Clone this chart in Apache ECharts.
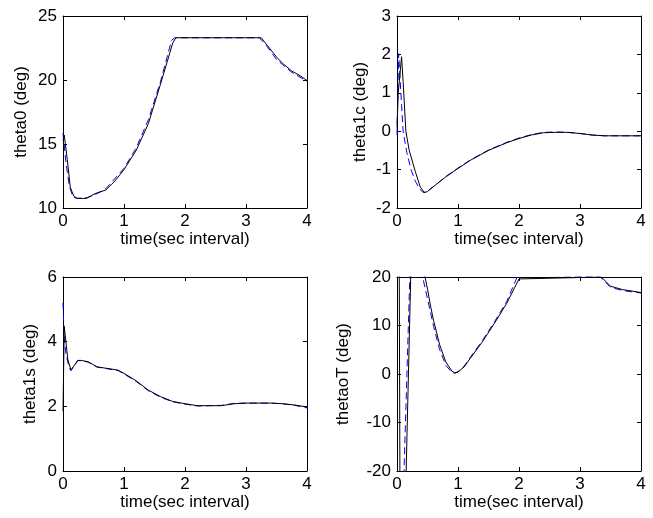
<!DOCTYPE html>
<html>
<head>
<meta charset="utf-8">
<script src="https://cdn.jsdelivr.net/npm/echarts@6/dist/echarts.min.js"></script>
<style>html,body{margin:0;padding:0;background:#fff}#c{width:653px;height:518px}</style>
</head>
<body>
<div id="c"></div>
<script>
// ---- data ----
var xTicks = [0, 1, 2, 3, 4];

// subplot 1: theta0 (deg)
var t0Act = [0, 0.02, 0.07, 0.12, 0.18, 0.24, 0.38, 0.54, 0.7, 0.85, 1.0, 1.2, 1.4, 1.6, 1.8, 1.85, 3.25, 3.35, 3.5, 3.6, 3.75, 3.9, 4.0];
var theta0Act = [15.3, 15.7, 13.8, 11.6, 10.9, 10.75, 10.75, 11.15, 11.4, 12.1, 13.0, 14.5, 16.6, 19.7, 22.9, 23.3, 23.3, 22.7, 21.8, 21.3, 20.7, 20.3, 19.95];
var t0Ref = [0, 0.05, 0.105, 0.16, 0.22, 0.4, 0.55, 0.7, 1.0, 1.2, 1.4, 1.6, 1.78, 1.83, 3.22, 3.35, 3.5, 3.6, 3.75, 4.0];
var theta0Ref = [15.85, 13.5, 11.7, 10.9, 10.75, 10.8, 11.1, 11.5, 13.1, 14.7, 16.9, 19.9, 23.1, 23.3, 23.3, 22.6, 21.6, 21.2, 20.6, 19.9];

// subplot 2: theta1c (deg)
var t1cAct = [0, 0.02, 0.075, 0.1, 0.145, 0.2, 0.3, 0.38, 0.45, 0.5, 0.6, 0.8, 1.0, 1.2, 1.5, 1.8, 2.0, 2.2, 2.4, 2.6, 2.8, 3.0, 3.2, 3.4, 4.0];
var theta1cAct = [0.1, 1.0, 1.94, 1.3, 0.0, -0.5, -1.05, -1.45, -1.6, -1.57, -1.44, -1.19, -0.97, -0.76, -0.5, -0.3, -0.19, -0.1, -0.04, -0.03, -0.03, -0.06, -0.1, -0.12, -0.12];
var t1cRef = [0, 0.027, 0.06, 0.1, 0.16, 0.23, 0.3, 0.37, 0.43, 0.5, 0.6, 0.8, 1.0, 1.2, 1.5, 1.8, 2.0, 2.2, 2.4, 2.6, 2.8, 3.0, 3.2, 3.4, 4.0];
var theta1cRef = [-0.1, 2.02, 1.1, 0.0, -0.55, -1.0, -1.3, -1.5, -1.6, -1.56, -1.44, -1.18, -0.96, -0.75, -0.49, -0.29, -0.18, -0.09, -0.03, -0.02, -0.03, -0.06, -0.1, -0.12, -0.12];

// subplot 3: theta1s (deg)
var t1sAct = [0, 0.02, 0.08, 0.13, 0.18, 0.24, 0.3, 0.41, 0.56, 0.7, 0.9, 1.0, 1.2, 1.4, 1.6, 1.8, 2.0, 2.2, 2.6, 2.8, 3.0, 3.4, 3.6, 3.8, 4.0];
var theta1sAct = [1.85, 4.47, 3.44, 3.13, 3.25, 3.42, 3.42, 3.38, 3.22, 3.18, 3.12, 3.02, 2.79, 2.5, 2.3, 2.15, 2.08, 2.02, 2.02, 2.08, 2.1, 2.1, 2.08, 2.04, 1.98];
var t1sRef = [0, 0.02, 0.05, 0.1, 0.13, 0.2, 0.25, 0.41, 0.56, 0.7, 0.9, 1.0, 1.2, 1.4, 1.6, 1.8, 2.0, 2.2, 2.6, 2.8, 3.0, 3.4, 3.6, 3.8, 4.0];
var theta1sRef = [5.2, 4.1, 3.6, 3.2, 3.1, 3.3, 3.42, 3.37, 3.21, 3.17, 3.11, 3.0, 2.77, 2.48, 2.28, 2.14, 2.07, 2.01, 2.03, 2.09, 2.1, 2.1, 2.08, 2.03, 1.95];

// subplot 4: thetaoT (deg)
var toTAct = [0, 0.035, 0.05, 0.13, 0.15, 0.225, 0.3, 0.46, 0.5, 0.55, 0.6, 0.7, 0.8, 0.9, 0.95, 1.0, 1.1, 1.2, 1.4, 1.6, 1.8, 2.0, 2.03, 3.35, 3.5, 3.7, 4.0];
var thetaoTAct = [45, 30, -30, -28, -20, 20, 25, 20, 17.5, 14, 11, 6, 2.5, 0.6, 0.2, 0.4, 1.45, 3.2, 6.65, 10.5, 14.6, 19.6, 20, 20, 18.1, 17.4, 16.8];
var toTRef = [0, 0.1, 0.115, 0.21, 0.3, 0.42, 0.5, 0.6, 0.7, 0.8, 0.9, 0.95, 1.0, 1.1, 1.2, 1.4, 1.6, 1.8, 1.97, 2.0, 3.33, 3.5, 3.7, 4.0];
var thetaoTRef = [-30, -25, -20, 20, 25, 20, 15.5, 9.8, 5, 1.8, 0.3, 0.2, 0.5, 1.6, 3.4, 6.9, 10.8, 15, 20, 20.5, 20, 17.9, 17.2, 16.7];

var panels = [
  {name: 'theta0 (deg)', min: 10, max: 25, step: 5, tA: t0Act, vA: theta0Act, tR: t0Ref, vR: theta0Ref, gap: 33},
  {name: 'theta1c (deg)', min: -2, max: 3, step: 1, tA: t1cAct, vA: theta1cAct, tR: t1cRef, vR: theta1cRef, gap: 28},
  {name: 'theta1s (deg)', min: 0, max: 6, step: 2, tA: t1sAct, vA: theta1sAct, tR: t1sRef, vR: theta1sRef, gap: 24},
  {name: 'thetaoT (deg)', min: -20, max: 20, step: 10, tA: toTAct, vA: thetaoTAct, tR: toTRef, vR: thetaoTRef, gap: 45}
];
var grids = [
  {left: 63, top: 16, width: 244, height: 192},
  {left: 397, top: 16, width: 244, height: 192},
  {left: 63, top: 277, width: 244, height: 194},
  {left: 397, top: 277, width: 244, height: 194}
];

function zip(t, v) { return t.map(function (x, i) { return [x, v[i]]; }); }

var FONT = 'Liberation Sans, Arial, sans-serif';
var axisLineS = {show: true, onZero: false, lineStyle: {color: '#000', width: 1}};
var tickS = {show: true, inside: true, length: 4, lineStyle: {color: '#000', width: 1}};

var option = {animation: false, backgroundColor: '#fff', grid: [], xAxis: [], yAxis: [], series: []};
panels.forEach(function (p, i) {
  var g = grids[i];
  option.grid.push({left: g.left, top: g.top, width: g.width, height: g.height, containLabel: false});
  option.xAxis.push({
    type: 'value', gridIndex: i, min: 0, max: 4, interval: 1, position: 'bottom',
    axisLine: axisLineS, axisTick: tickS, splitLine: {show: false},
    axisLabel: {color: '#000', fontFamily: FONT, fontSize: 17, margin: 5},
    name: 'time(sec interval)', nameLocation: 'middle', nameGap: 19,
    nameTextStyle: {color: '#000', fontFamily: FONT, fontSize: 17}
  });
  option.xAxis.push({
    type: 'value', gridIndex: i, min: 0, max: 4, interval: 1, position: 'top',
    axisLine: axisLineS, axisTick: tickS, splitLine: {show: false}, axisLabel: {show: false}
  });
  option.yAxis.push({
    type: 'value', gridIndex: i, min: p.min, max: p.max, interval: p.step, position: 'left',
    axisLine: axisLineS, axisTick: tickS, splitLine: {show: false},
    axisLabel: {color: '#000', fontFamily: FONT, fontSize: 17, margin: 6},
    name: p.name, nameLocation: 'middle', nameGap: p.gap, nameRotate: 90,
    nameTextStyle: {color: '#000', fontFamily: FONT, fontSize: 17}
  });
  option.yAxis.push({
    type: 'value', gridIndex: i, min: p.min, max: p.max, interval: p.step, position: 'right',
    axisLine: axisLineS, axisTick: tickS, splitLine: {show: false}, axisLabel: {show: false}
  });
  option.series.push({
    type: 'line', xAxisIndex: 2 * i, yAxisIndex: 2 * i, data: zip(p.tR, p.vR),
    showSymbol: false, symbol: 'none', clip: true, smooth: false,
    lineStyle: {color: '#0000ff', width: 1, type: [7, 4]}
  });
  option.series.push({
    type: 'line', xAxisIndex: 2 * i, yAxisIndex: 2 * i, data: zip(p.tA, p.vA),
    showSymbol: false, symbol: 'none', clip: true, smooth: false,
    lineStyle: {color: '#000000', width: 1}
  });
});

var chart = echarts.init(document.getElementById('c'), null, {renderer: 'canvas'});
chart.setOption(option);
</script>
</body>
</html>
